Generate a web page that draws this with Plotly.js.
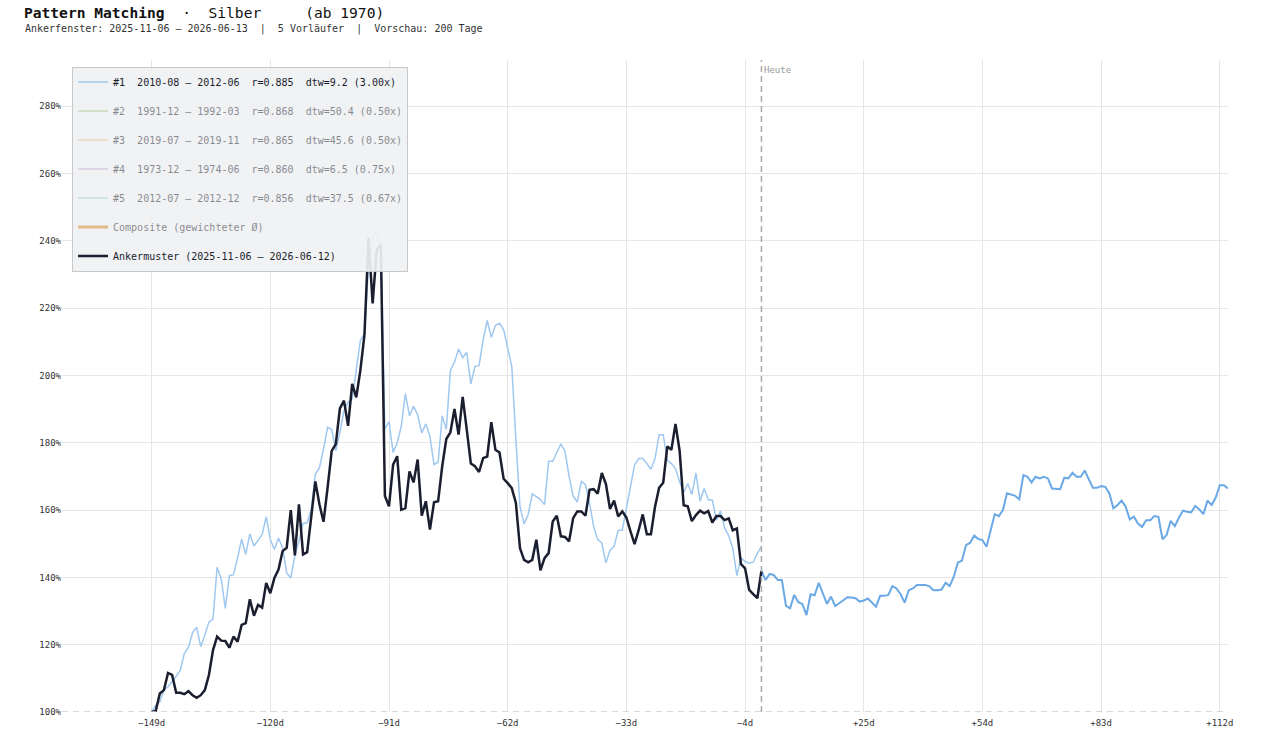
<!DOCTYPE html>
<html>
<head>
<meta charset="utf-8">
<script src="https://cdn.plot.ly/plotly-3.0.1.min.js"></script>
<style>
  html, body { margin: 0; padding: 0; background: #fff; }
  #chart { width: 1262px; height: 732px; }
</style>
</head>
<body>
<div id="chart"></div>
<script>
// anchor window: trading-day offsets -149 .. 0
var anchorValues = [
  100, 100.3, 105.5, 106.5, 111.6, 111, 105.7, 105.7, 105.3, 106.2,
  105, 104.2, 105, 106.5, 111, 118.4, 122.4, 121.2, 121.1, 119.1,
  122.4, 120.9, 125.9, 126.4, 133.5, 128.6, 131.8, 131, 138.3, 135.3,
  139.8, 142.3, 147.8, 148.8, 160, 146.5, 161.7, 146.8, 147.5, 157.2,
  168.5, 161.7, 156.5, 166.7, 177.6, 179.6, 190.2, 192.5, 185, 197.5,
  193.5, 201.5, 212, 240.8, 221.4, 237.3, 239, 164.2,
  161.1, 173.5, 176, 160.1, 160.6, 171.5, 168.2, 175, 158.3, 162.6,
  154.2, 162.3, 162.6, 173, 181.1, 183.1, 190, 182.4, 193.6, 183.9,
  173.8, 173, 171.3, 175.4, 175.9, 186.1, 177.9, 177.1, 169.3, 168,
  166.5, 162.1, 148.7, 145.2, 144.5, 145.2, 151.2, 142.1, 145.7, 147.2,
  156.6, 158.3, 152.2, 152, 150.7, 157.6, 159.6, 159.6, 158.3, 166,
  166.2, 164.9, 171, 167.7, 160.3, 162.8, 158.1, 159.6, 157.8, 153.7, 149.9,
  154, 158.7, 152.8, 152.8, 161, 166.6, 168.1, 178.9, 177.9, 185.6,
  177.7, 161.4, 161.1, 156.7, 158.5, 159.8, 159, 159.7, 156.3, 158.2,
  158.2, 157, 157.5, 154, 154.5, 143.9, 142.7, 136.3, 135, 133.8,
  141.9
];

// best match #1, rescaled onto the anchor window
var match1Values = [
  100, 102, 103, 106.5, 107.5, 109, 110.6, 112.4, 117.4, 119.2,
  123.6, 125.2, 119.4, 122.9, 126.7, 127.6, 143, 139.6, 130.8, 140.5,
  140.8, 145.8, 151.4, 146.8, 152.9, 149.3, 151, 152.7, 158, 151.2,
  148.3, 151.7, 148.8, 141.3, 139.8, 146.5, 150.7, 156, 156.2, 160.2,
  170.6, 172.6, 178.1, 184.6, 183.9, 177.6, 183, 189.6, 192, 193,
  201.5, 210.4, 212.4, 232.8, 240.8, 243, 236.8, 184,
  186.3, 177.1, 179.9, 184.9, 194.6, 188, 190.8, 188.3, 182.9, 185.6,
  181.9, 173.5, 174.2, 188, 184, 201.5, 203.9, 207.8, 205.3, 206.8,
  197.5, 202.7, 202.9, 210.6, 216.3, 211.3, 214.8, 215.5, 213.6, 208.6,
  202.7, 180.9, 161.1, 155.9, 158.6, 164.8, 163.9, 163.1, 161.6, 174.5,
  174.5, 176.9, 179.7, 177.4, 170, 164.1, 162.4, 168.5, 167.5, 162.1,
  155.1, 151.2, 150.2, 144.3, 148, 149.2, 154, 154, 160.3, 167.7, 173.4,
  175.3, 175.3, 173.8, 172.1, 175.3, 182.4, 182.4, 174.8, 173.8, 172.3,
  168.4, 165.2, 167.9, 164.6, 171, 162.6, 166.4, 163.1, 162.9, 157,
  159.7, 154.7, 152.4, 148.6, 140.5, 145.8, 144.7, 144.2, 144.5, 147.1,
  149.1
];

// what followed match #1, starting at today's level (offsets 0 .. 114)
var match1Preview = [
  141.9, 139.2, 141, 140.7, 139.2, 139.2, 131.5, 130.8, 134.8, 132.6,
  132.1, 128.8, 135, 134.7, 138.4, 135.2, 132.1, 134.3, 131.5, 132.3,
  133.1, 134.1, 134, 133.8, 132.8, 133.1, 133.7, 132.5, 131.3, 134.5,
  134.5, 134.8, 137.4, 136.7, 135, 132.5, 136.2, 136.7, 137.7, 137.7,
  137.7, 137.4, 136.2, 136.2, 136.4, 138.4, 137.4, 140.2, 144.4, 145,
  149.6, 150.3, 152.4, 151.4, 151.1, 149.1, 154.1, 158.8, 158.2, 160,
  165, 164.7, 164.2, 163.2, 170.4, 169.9, 168.2, 169.9, 169.4, 169.9,
  169.4, 166.4, 166.2, 166.2, 169.6, 169.4, 171.1, 169.9, 169.9, 171.7,
  169.1, 166.6, 166.6, 167.1, 166.9, 165, 160.5, 161.5, 162.8, 161,
  157.2, 158, 156, 155, 157, 157, 158.2, 158, 151.3, 152.6,
  156.8, 155.2, 157.7, 159.8, 159.5, 159.3, 161.2, 160.2, 158.8, 162.8,
  161.5, 163.7, 167.4, 167.4, 166.4
];

var matchLabels = [
  '#1  2010-08 – 2012-06  r=0.885  dtw=9.2 (3.00x)',
  '#2  1991-12 – 1992-03  r=0.868  dtw=50.4 (0.50x)',
  '#3  2019-07 – 2019-11  r=0.865  dtw=45.6 (0.50x)',
  '#4  1973-12 – 1974-06  r=0.860  dtw=6.5 (0.75x)',
  '#5  2012-07 – 2012-12  r=0.856  dtw=37.5 (0.67x)'
];
var matchColors = ['#9fc8f0', '#9dc184', '#e2c18c', '#bca8d2', '#92cdbd'];
var compositeLabel = 'Composite (gewichteter Ø)';
var anchorLabel = 'Ankermuster (2025-11-06 – 2026-06-12)';

var tickDays = [-149, -120, -91, -62, -33, -4, 25, 54, 83, 112];
var tickLabels = ['−149d', '−120d', '−91d', '−62d', '−33d', '−4d', '+25d', '+54d', '+83d', '+112d'];

var anchorStart = -149;
var anchorX = anchorValues.map(function (v, i) { return anchorStart + i; });
var previewX = match1Preview.map(function (v, i) { return i; });

var mono = 'DejaVu Sans Mono, monospace';

var traces = [];
traces.push({
  x: anchorX, y: match1Values, type: 'scatter', mode: 'lines',
  name: matchLabels[0], legendgroup: 'm1',
  line: {color: matchColors[0], width: 1.5}
});
traces.push({
  x: previewX, y: match1Preview, type: 'scatter', mode: 'lines',
  name: matchLabels[0], legendgroup: 'm1', showlegend: false,
  line: {color: '#6aa8e6', width: 2}
});
for (var k = 1; k < matchLabels.length; k++) {
  traces.push({
    x: [null], y: [null], type: 'scatter', mode: 'lines',
    name: matchLabels[k], legendgroup: 'm' + (k + 1), visible: 'legendonly',
    line: {color: matchColors[k], width: 1.5}
  });
}
traces.push({
  x: [null], y: [null], type: 'scatter', mode: 'lines',
  name: compositeLabel, legendgroup: 'comp', visible: 'legendonly',
  line: {color: '#d4801c', width: 3}
});
traces.push({
  x: anchorX, y: anchorValues, type: 'scatter', mode: 'lines',
  name: anchorLabel, legendgroup: 'anchor',
  line: {color: '#1b1e2e', width: 2.5}
});

var layout = {
  width: 1262, height: 732,
  paper_bgcolor: '#ffffff', plot_bgcolor: '#ffffff',
  font: {family: mono, size: 10, color: '#1a1d2e'},
  margin: {l: 62, r: 34, t: 60, b: 20},
  title: {
    text: '<b>Pattern Matching</b>  ·  Silber     (ab 1970)',
    font: {family: mono, size: 14.6, color: '#111'},
    x: 0.019, xanchor: 'left', xref: 'container',
    y: 0.99, yanchor: 'top', yref: 'container'
  },
  xaxis: {
    range: [-170.9, 114],
    tickvals: tickDays, ticktext: tickLabels,
    showgrid: true, gridcolor: '#e6e6e6', zeroline: false, showline: false,
    ticks: '', ticklabelstandoff: 4,
    tickfont: {family: mono, size: 9, color: '#333'}
  },
  yaxis: {
    range: [100, 293.7],
    tick0: 100, dtick: 20, ticksuffix: '%',
    showgrid: true, gridcolor: '#e6e6e6', zeroline: false, showline: false,
    ticks: '', tickfont: {family: mono, size: 9, color: '#333'}
  },
  legend: {
    x: 0.0086, y: 0.99, xanchor: 'left', yanchor: 'top',
    bgcolor: 'rgba(240,241,243,0.92)', bordercolor: '#c8c8c8', borderwidth: 1,
    font: {family: mono, size: 10, color: '#1a1d2e'},
    tracegroupgap: 10
  },
  shapes: [
    {type: 'line', xref: 'x', yref: 'paper', x0: 0, x1: 0, y0: 0, y1: 1,
     line: {color: '#aaaaaa', width: 1.5, dash: '6px,4px'}},
    {type: 'line', xref: 'paper', yref: 'y', x0: 0, x1: 1, y0: 100, y1: 100,
     line: {color: '#cccccc', width: 1.5, dash: '6px,5px'}}
  ],
  annotations: [
    {x: 0, xref: 'paper', y: 1, yref: 'paper', xanchor: 'left', yanchor: 'bottom',
     text: 'Ankerfenster: 2025-11-06 – 2026-06-13  |  5 Vorläufer  |  Vorschau: 200 Tage',
     showarrow: false, xshift: -39, yshift: 23,
     font: {family: mono, size: 10, color: '#333'}},
    {x: 0, xref: 'x', y: 1, yref: 'paper', xanchor: 'left', yanchor: 'top',
     text: 'Heute', showarrow: false, xshift: 1, yshift: -3,
     font: {family: mono, size: 9, color: '#999'}}
  ],
  showlegend: true
};

Plotly.newPlot('chart', traces, layout, {displayModeBar: false});
</script>
</body>
</html>
